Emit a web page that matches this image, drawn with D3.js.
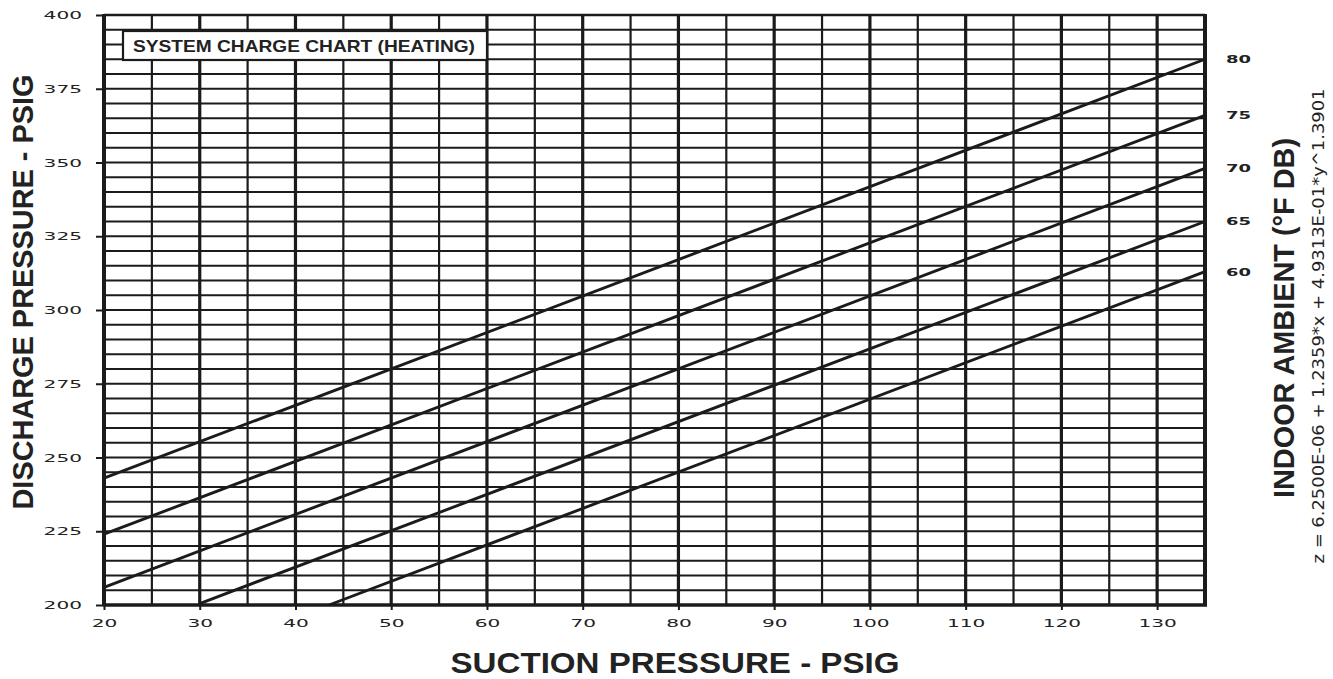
<!DOCTYPE html>
<html>
<head>
<meta charset="utf-8">
<script src="https://cdn.jsdelivr.net/npm/d3@7"></script>
<style>
  html, body { margin: 0; padding: 0; background: #fff; }
  svg { display: block; }
</style>
</head>
<body>
<svg id="chart" width="1333" height="679"></svg>
<script>
// Axis ticks (psig)
const suctionTicks = [20, 30, 40, 50, 60, 70, 80, 90, 100, 110, 120, 130];
const dischargeTicks = [200, 225, 250, 275, 300, 325, 350, 375, 400];

// Indoor ambient lines (°F DB): each is a straight segment, start/end in psig
const ambientF = [80, 75, 70, 65, 60];
const startSuction = [20, 20, 20, 30, 43.5];
const startDischarge = [243, 224, 206, 200.5, 200];
const endSuction = [135, 135, 135, 135, 135];
const endDischarge = [385, 366, 348, 330, 313];

const ink = "#1b1b1b";
const svg = d3.select("#chart");

const x = d3.scaleLinear().domain([20, 135]).range([104, 1205]);
const y = d3.scaleLinear().domain([200, 400]).range([605, 15]);

const grid = svg.append("g");

// Horizontal grid every 5 psig
grid.selectAll("line.h")
  .data(d3.range(205, 400, 5))
  .join("line")
  .attr("x1", x(20)).attr("x2", x(135))
  .attr("y1", d => y(d)).attr("y2", d => y(d))
  .attr("stroke", ink).attr("stroke-width", 1.8);

// Vertical grid every 5 psig, heavier at each 10
grid.selectAll("line.v")
  .data(d3.range(25, 135, 5))
  .join("line")
  .attr("y1", y(200)).attr("y2", y(400))
  .attr("x1", d => x(d)).attr("x2", d => x(d))
  .attr("stroke", ink)
  .attr("stroke-width", d => d % 10 === 0 ? 3.2 : 2.2);

// Indoor ambient lines
const lines = ambientF.map((t, i) => ({
  t,
  p0: [startSuction[i], startDischarge[i]],
  p1: [endSuction[i], endDischarge[i]]
}));
svg.append("g").selectAll("line")
  .data(lines)
  .join("line")
  .attr("x1", d => x(d.p0[0])).attr("y1", d => y(d.p0[1]))
  .attr("x2", d => x(d.p1[0])).attr("y2", d => y(d.p1[1]))
  .attr("stroke", ink).attr("stroke-width", 2.9);

// Frame
svg.append("line").attr("x1", x(20)).attr("x2", x(135)).attr("y1", y(400)).attr("y2", y(400))
  .attr("stroke", ink).attr("stroke-width", 2.4);
svg.append("line").attr("x1", x(20) - 1).attr("x2", x(135) + 2).attr("y1", y(200)).attr("y2", y(200))
  .attr("stroke", ink).attr("stroke-width", 3.5);
svg.append("line").attr("x1", x(20)).attr("x2", x(20)).attr("y1", y(400) - 1).attr("y2", y(200) + 1)
  .attr("stroke", ink).attr("stroke-width", 4);
svg.append("line").attr("x1", x(135)).attr("x2", x(135)).attr("y1", y(400) - 1).attr("y2", y(200) + 1)
  .attr("stroke", ink).attr("stroke-width", 4);

// Axes
const tickFont = "'DejaVu Sans', sans-serif";
const xAxis = svg.append("g")
  .attr("transform", `translate(0,${y(200)})`)
  .call(d3.axisBottom(x).tickValues(suctionTicks).tickSize(5).tickPadding(9).tickFormat(d3.format("d")));
const yAxis = svg.append("g")
  .attr("transform", `translate(${x(20)},0)`)
  .call(d3.axisLeft(y).tickValues(dischargeTicks).tickSize(8).tickPadding(14).tickFormat(d3.format("d")));

[xAxis, yAxis].forEach(a => {
  a.select(".domain").remove();
  a.selectAll(".tick line").attr("stroke", ink).attr("stroke-width", 2);
  a.selectAll(".tick text")
    .attr("fill", "#222")
    .style("font-family", tickFont)
    .style("font-size", "11px")
    .attr("textLength", d => String(d).length * 12.8)
    .attr("lengthAdjust", "spacingAndGlyphs");
});

// Ambient labels at the right end of each line
svg.append("g").selectAll("text")
  .data(lines)
  .join("text")
  .attr("x", 1226)
  .attr("y", d => y(d.p1[1]))
  .attr("dy", "0.36em")
  .attr("fill", "#222")
  .style("font-family", tickFont)
  .style("font-size", "11px")
  .style("font-weight", "bold")
  .attr("textLength", 25)
  .attr("lengthAdjust", "spacingAndGlyphs")
  .text(d => d.t);

// Chart title box
const title = svg.append("g");
title.append("rect")
  .attr("x", 123).attr("y", 31).attr("width", 364).attr("height", 29)
  .attr("fill", "#fff").attr("stroke", ink).attr("stroke-width", 2.2);
title.append("text")
  .attr("x", 133).attr("y", 52)
  .attr("fill", "#222")
  .style("font-family", "'Liberation Sans', Arial, sans-serif")
  .style("font-weight", "bold")
  .style("font-size", "16.5px")
  .attr("textLength", 342)
  .attr("lengthAdjust", "spacingAndGlyphs")
  .text("SYSTEM CHARGE CHART (HEATING)");

// Axis titles
const titleFont = "'Liberation Sans', Arial, sans-serif";
svg.append("text")
  .attr("x", 675).attr("y", 673)
  .attr("text-anchor", "middle")
  .attr("fill", "#222")
  .style("font-family", titleFont).style("font-weight", "bold").style("font-size", "30px")
  .attr("textLength", 449).attr("lengthAdjust", "spacingAndGlyphs")
  .text("SUCTION PRESSURE - PSIG");

svg.append("text")
  .attr("transform", "translate(33,292) rotate(-90)")
  .attr("text-anchor", "middle")
  .attr("fill", "#222")
  .style("font-family", titleFont).style("font-weight", "bold").style("font-size", "30px")
  .attr("textLength", 435).attr("lengthAdjust", "spacingAndGlyphs")
  .text("DISCHARGE PRESSURE - PSIG");

svg.append("text")
  .attr("transform", "translate(1294,318) rotate(-90)")
  .attr("text-anchor", "middle")
  .attr("fill", "#222")
  .style("font-family", titleFont).style("font-weight", "bold").style("font-size", "30px")
  .attr("textLength", 360).attr("lengthAdjust", "spacingAndGlyphs")
  .text("INDOOR AMBIENT (°F DB)");

svg.append("text")
  .attr("transform", "translate(1324,326) rotate(-90)")
  .attr("text-anchor", "middle")
  .attr("fill", "#222")
  .style("font-family", "'DejaVu Sans', sans-serif").style("font-size", "16px")
  .attr("textLength", 475).attr("lengthAdjust", "spacingAndGlyphs")
  .text("z = 6.2500E-06 + 1.2359*x + 4.9313E-01*y^1.3901");
</script>
</body>
</html>
